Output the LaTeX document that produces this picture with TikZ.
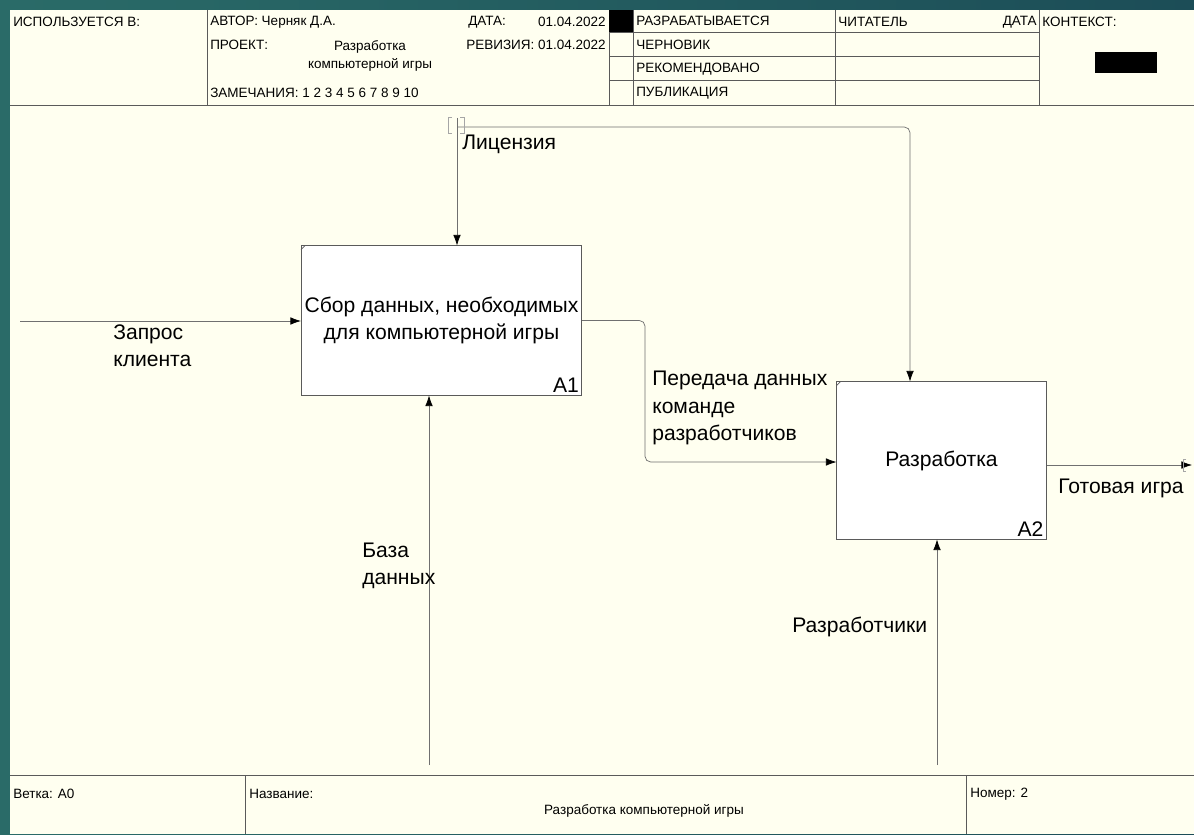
\documentclass[tikz,border=0pt]{standalone}
\usepackage{fontspec}
\setmainfont{Liberation Sans}
\usetikzlibrary{arrows.meta,calc,positioning}
\tikzset{>={Latex[length=7.5pt,width=5.4pt,color=black]}}
\definecolor{paper}{HTML}{FFFFF0}
\definecolor{tealA}{HTML}{2A6B68}
\definecolor{tealB}{HTML}{1C4D57}
\definecolor{rulegray}{HTML}{5A5A5A}
\definecolor{wiregray}{HTML}{707070}
\tikzset{
  funcbox/.style={draw=rulegray, fill=white, line width=0.7pt, inner sep=0pt,
    align=center, font=\fontsize{15}{19.5}\selectfont},
  flow/.style={draw=wiregray, line width=0.5pt, ->, rounded corners=4pt},
  arrowlbl/.style={font=\fontsize{15}{19.5}\selectfont, align=left, inner sep=0pt, anchor=west},
  hdr/.style={font=\fontsize{9.6}{12.4}\selectfont, inner sep=0pt, anchor=west},
  tunnel/.style={draw=gray!70, line width=0.5pt},
}

\begin{document}
\begin{tikzpicture}[x=0.025cm, y=-0.025cm]
  \useasboundingbox (0,0) rectangle (1194,834);
  \shade[left color=tealA, right color=tealB] (0,0) rectangle (1194,834);
  \fill[paper] (10,10) rectangle (1194,834);

  % header frame
  \draw[rulegray, line width=0.6pt] (10,105) -- (1194,105);
  \foreach \x in {207,609,633,835,1039}
    \draw[rulegray, line width=0.6pt] (\x,10) -- (\x,105);
  \foreach \y in {32,56,80}
    \draw[rulegray, line width=0.6pt] (609,\y) -- (1039,\y);
  \fill (609,10) rectangle (633,32);
  \fill (1095,52) rectangle (1157,73);

  % header texts
  \node[hdr] (used) at (13,22) {ИСПОЛЬЗУЕТСЯ В:};
  \node[hdr] (author) at (210,22) {АВТОР: Черняк Д.А.};
  \node[hdr] (project) at (210,45) {ПРОЕКТ:};
  \node[hdr, anchor=center, align=center] (projname) at (370,56) {Разработка\\компьютерной игры};
  \node[hdr] (notes) at (210,93) {ЗАМЕЧАНИЯ: 1 2 3 4 5 6 7 8 9 10};
  \node[hdr] (date) at (468,22) {ДАТА:};
  \node[hdr, anchor=east] (dateval) at (606,22) {01.04.2022};
  \node[hdr, anchor=east] (rev) at (606,45) {РЕВИЗИЯ: 01.04.2022};
  \foreach \t [count=\i] in {РАЗРАБАТЫВАЕТСЯ,ЧЕРНОВИК,РЕКОМЕНДОВАНО,ПУБЛИКАЦИЯ}
    \node[hdr] (state\i) at (636,{-3+24*\i}) {\t};
  \node[hdr] (reader) at (838,22) {ЧИТАТЕЛЬ};
  \node[hdr, anchor=east] (readdate) at (1037,22) {ДАТА};
  \node[hdr] (context) at (1042,22) {КОНТЕКСТ:};

  % footer
  \draw[rulegray, line width=0.6pt] (10,775) -- (1194,775);
  \draw[rulegray, line width=0.6pt] (245,775) -- (245,834);
  \draw[rulegray, line width=0.6pt] (966,775) -- (966,834);
  \node[hdr] (branch) at (13,794) {Ветка: A0};
  \node[hdr] (title) at (249,794) {Название:};
  \node[hdr, anchor=center] (titleval) at (644,811) {Разработка компьютерной игры};
  \node[hdr] (number) at (970,794) {Номер: 2};

  % functions
  \node[funcbox, minimum width=7cm, minimum height=3.725cm] (a1) at (441.5,320.5)
    {Сбор данных, необходимых\\для компьютерной игры};
  \node[funcbox, minimum width=5.225cm, minimum height=3.925cm] (a2) at (941.5,460.5)
    {Разработка};
  \foreach \b/\n in {a1/A1,a2/A2} {
    \draw[rulegray, line width=0.5pt] ([yshift=-3pt]\b.north west) -- ([xshift=3pt]\b.north west);
    \node[font=\fontsize{15}{18}\selectfont, anchor=south east, inner sep=2pt] (\b num) at (\b.south east) {\n};
  }

  % free ends
  \coordinate (req) at (20,321);
  \coordinate (lic) at (457,118);
  \coordinate (licsplit) at (457,127);
  \coordinate (lictoa2) at (910,127);
  \coordinate (bend) at (645,462);
  \coordinate (db) at (429,765);
  \coordinate (devs) at (937,765);
  \coordinate (game) at (1192,465);

  % arrows
  \draw[flow] (req) -- (req -| a1.west);
  \draw[flow] (lic) -- (lic |- a1.north);
  \draw[flow] (licsplit) -| (lictoa2 |- a2.north);
  \draw[flow] (a1.east) -| (bend) -- (bend -| a2.west);
  \draw[flow] (db) -- (db |- a1.south);
  \draw[flow] (devs) -- (devs |- a2.south);
  \draw[flow] (game -| a2.east) -- (game);

  % tunnels
  \draw[tunnel] (452,117) -- (448,117) -- (448,133) -- (452,133);
  \draw[tunnel] (460,117) -- (464,117) -- (464,133) -- (460,133);
  \draw[tunnel] (1186,459) -- (1183,459) -- (1183,471) -- (1186,471);

  % arrow labels
  \node[arrowlbl] (reqlbl) at (113,346) {Запрос\\клиента};
  \node[arrowlbl] (liclbl) at (462,144) {Лицензия};
  \node[arrowlbl] (passlbl) at (652,408) {Передача данных\\команде\\разработчиков};
  \node[arrowlbl] (dblbl) at (362,566) {База\\данных};
  \node[arrowlbl] (devlbl) at (792,627) {Разработчики};
  \node[arrowlbl] (gamelbl) at (1058,488) {Готовая игра};
\end{tikzpicture}
\end{document}
